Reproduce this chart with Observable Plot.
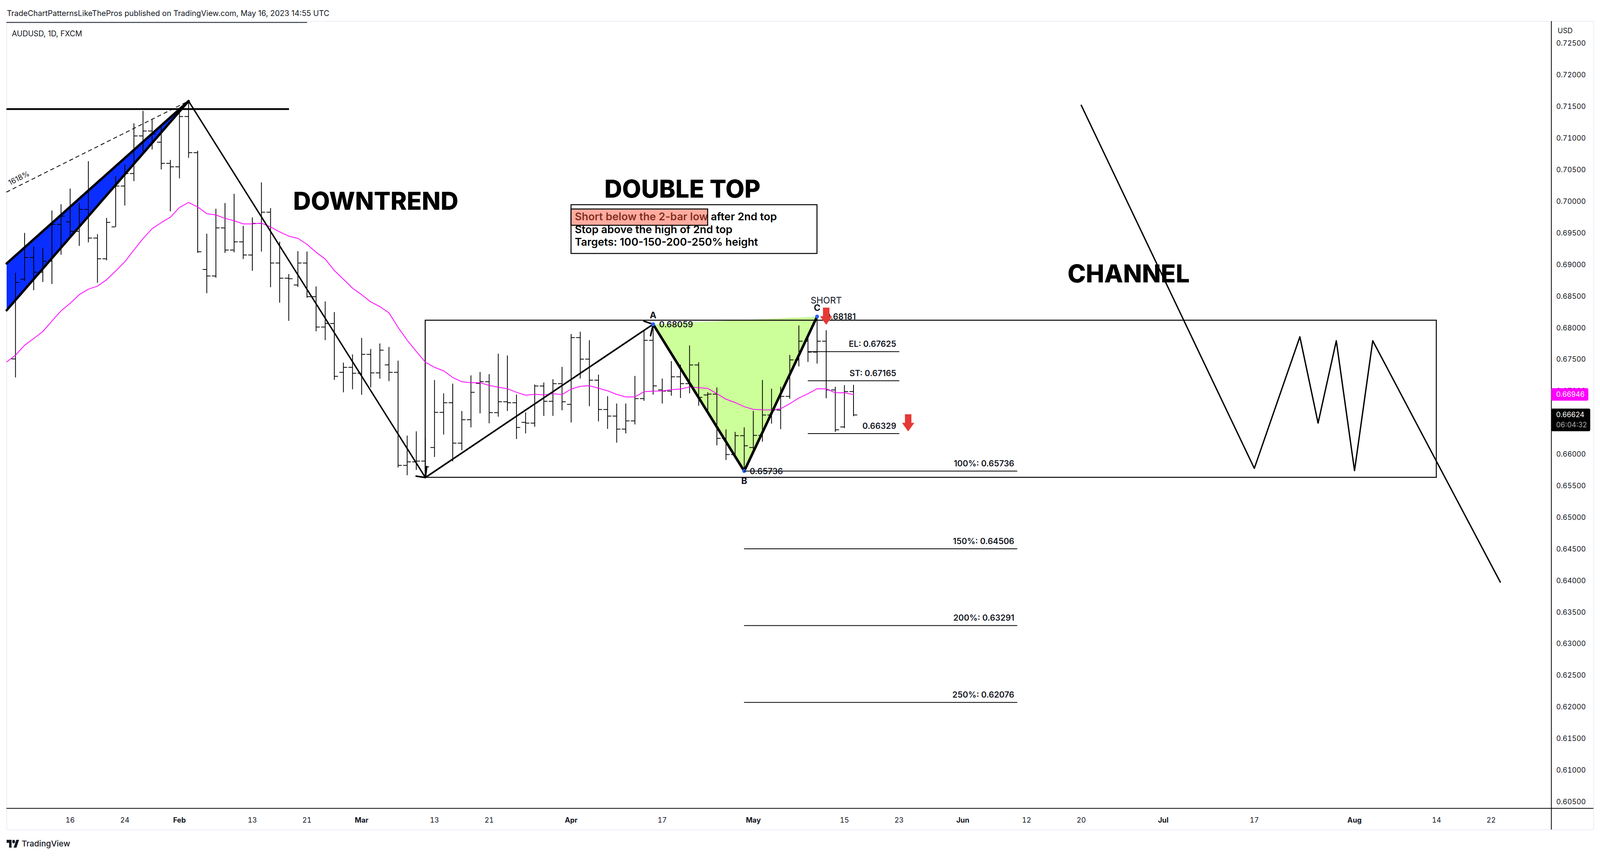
<!DOCTYPE html>
<html>
<head>
<meta charset="utf-8">
<script src="https://cdn.jsdelivr.net/npm/d3@7"></script>
<script src="https://cdn.jsdelivr.net/npm/@observablehq/plot@0.6"></script>
<style>
html,body{margin:0;padding:0;background:#fff;font-family:Inter,sans-serif;color:#131722;overflow:hidden}
#page{position:relative;width:100%;height:2194px;overflow:hidden}
#head{height:52px;box-sizing:border-box;padding-top:22px;line-height:24px;white-space:nowrap}
#foot{position:absolute;top:2148px;display:flex;align-items:center;font-weight:500;line-height:24px}
svg{display:block}
</style>
</head>
<body>
<div id="page">
<div id="head">TradeChartPatternsLikeThePros published on TradingView.com, May 16, 2023 14:55 UTC</div>
<div id="chart"></div>
<div id="foot"><svg id="logo" height="20" viewBox="0 4 36 18" preserveAspectRatio="none" fill="#131722"><path d="M14 22H7V11H0V4h14v18zM28 22h-8l7.5-18h8L28 22z"/><circle cx="20" cy="8" r="4"/></svg><span>TradingView</span></div>
</div>
<script>
// ---- OHLC, one value per trading bar, from 6 Jan 2023 (bar 0) to 16 May 2023 (bar 92)
const opens=[.67511,.68772,.69115,.68883,.69056,.69639,.69679,.69529,.69876,.69423,.69095,.69600,.70246,.70444,.71039,.71117,.70940,.70605,.70550,.71346,.70774,.68926,.68823,.69584,.69233,.69363,.69155,.69655,.69832,.69028,.68788,.68681,.69028,.68496,.68015,.68071,.67298,.67377,.67284,.67583,.67290,.67416,.67298,.65826,.65882,.65894,.66109,.66665,.66817,.66178,.66549,.67124,.67150,.66661,.66833,.66817,.66507,.66495,.67082,.66840,.67119,.66791,.67848,.67507,.67174,.66710,.66606,.66400,.66530,.66883,.67805,.67020,.67001,.67228,.67119,.67415,.66940,.66954,.66254,.65998,.66296,.66109,.66301,.66623,.66701,.66918,.67495,.67791,.67618,.67791,.67020,.66434,.66994];
const highs=[.68871,.69501,.69285,.69257,.69856,.69955,.70203,.69974,.70637,.69482,.69738,.70400,.70585,.71236,.71433,.71295,.71196,.70656,.71453,.71591,.70802,.69489,.69884,.69974,.70120,.69612,.69746,.70301,.69895,.69363,.68851,.69213,.69206,.68654,.68417,.68248,.67449,.67579,.67840,.67665,.67752,.67696,.67480,.66294,.66362,.66258,.67174,.66963,.67117,.66684,.67247,.67301,.67266,.67590,.67562,.66944,.66661,.67103,.67134,.67186,.67382,.67902,.67938,.67803,.67259,.66918,.66802,.66802,.67238,.67949,.68059,.67197,.67474,.67417,.67720,.67455,.66980,.67056,.66393,.66353,.66424,.66684,.67174,.67037,.67067,.67571,.68037,.67867,.68181,.67961,.67067,.67093,.67098];
const lows=[.67215,.68741,.68595,.68725,.68693,.69155,.69442,.69296,.69352,.68713,.69068,.69600,.69935,.70321,.70794,.70822,.70506,.69844,.70364,.70688,.69186,.68547,.68792,.69186,.69194,.69087,.68902,.69206,.68642,.68398,.68110,.68646,.68476,.67944,.67805,.67175,.66979,.67027,.66940,.67057,.67195,.67156,.65790,.65667,.65750,.65639,.65956,.66311,.65887,.66062,.66424,.66646,.66488,.66594,.66684,.66240,.66329,.66434,.66606,.66606,.66694,.66502,.67197,.66760,.66519,.66400,.66183,.66329,.66471,.66845,.66944,.66802,.66925,.66890,.66963,.66767,.66661,.66140,.65908,.65987,.65736,.66046,.66199,.66483,.66396,.66878,.67389,.67460,.67434,.66885,.66353,.66412,.66601];
const closes=[.68721,.69115,.68883,.69056,.69639,.69769,.69529,.69876,.69423,.69095,.69671,.70246,.70444,.71039,.71117,.71070,.70605,.70550,.71346,.70774,.69206,.68823,.69584,.69233,.69363,.69155,.69655,.69832,.69028,.68788,.68780,.69028,.68496,.68015,.68071,.67235,.67377,.67284,.67583,.67290,.67649,.67298,.65826,.65882,.65894,.65802,.66665,.66817,.66178,.66549,.66982,.67150,.66661,.66833,.66817,.66426,.66495,.67082,.66840,.67119,.66833,.67848,.67507,.67174,.66710,.66606,.66400,.66530,.66883,.67805,.67084,.67001,.67228,.67119,.67415,.66902,.66954,.66254,.65998,.66296,.66136,.66301,.66623,.66701,.66918,.67495,.67791,.67618,.67791,.67020,.66389,.66994,.66624];
// moving average, starting one bar before bar 0
const maValues=[.67459,.67570,.67727,.67834,.67944,.68110,.68271,.68390,.68527,.68614,.68662,.68764,.68902,.69048,.69233,.69414,.69572,.69667,.69753,.69907,.69986,.69915,.69809,.69789,.69734,.69698,.69647,.69647,.69659,.69600,.69521,.69454,.69418,.69324,.69198,.69091,.68910,.68772,.68630,.68527,.68413,.68338,.68240,.68010,.67808,.67630,.67458,.67377,.67323,.67216,.67150,.67134,.67134,.67091,.67063,.67039,.66982,.66937,.66951,.66942,.66959,.66947,.67034,.67077,.67086,.67048,.67006,.66949,.66909,.66909,.66992,.67001,.67003,.67025,.67034,.67067,.67056,.67044,.66961,.66873,.66821,.66755,.66713,.66705,.66703,.66722,.66802,.66892,.66961,.67039,.67037,.66975,.66977,.66946];

// ---- axes
const priceTicks=[.605,.61,.615,.62,.625,.63,.635,.64,.645,.65,.655,.66,.665,.67,.675,.68,.685,.69,.695,.7,.705,.71,.715,.72,.725];
const dayTicks=[6,12,26,32,46,52,71,91,97,111,117,136,156,162];
const dayLabels=["16","24","13","21","13","21","17","15","23","12","20","17","14","22"];
const monthTicks=[18,38,61,81,104,126,147];
const monthLabels=["Feb","Mar","Apr","May","Jun","Jul","Aug"];

// ---- drawings
const wedgeX=[-0.97,19,-0.97];
const wedgeY=[.69021,.71591,.68280];
const fibX=[-0.97,19];
const fibY=[.70152,.71591];
const downX=[19,45];
const downY=[.71591,.65634];
const upX=[45,70];
const upY=[.65634,.68059];
const headLowX=[43.98,45,45.15];
const headLowY=[.65655,.65634,.65809];
const headTopX=[68.99,70,69.72];
const headTopY=[.68108,.68059,.67878];
const patternX=[70,80,88];
const patternY=[.68059,.65736,.68181];
const channelX=[117,136,141,143,145,147,149,163];
const channelY=[.71524,.65779,.67860,.66496,.67798,.65743,.67798,.63980];
const shortLevels=[.67625,.67165,.66329];
const shortLabels=["EL: 0.67625","ST: 0.67165","0.66329"];
const targetLevels=[.65736,.64506,.63291,.62076];
const targetLabels=["100%: 0.65736","150%: 0.64506","200%: 0.63291","250%: 0.62076"];
const noteLines=["Short below the 2-bar low after 2nd top","Stop above the high of 2nd top","Targets: 100-150-200-250% height"];
const noteY=[.69756,.69554,.69359];
const arrowX=[89,98];
const arrowY=[.68187,.66499];

// the browser window may be narrower than the reference: fit the width to it
const pageW=Math.min(window.innerWidth,4948);
const kx=pageW/4948;
const fs=n=>n*kx;

const bars=opens.map((o,i)=>({i,open:o,high:highs[i],low:lows[i],close:closes[i]}));
const ma=maValues.map((v,k)=>({i:k-1,v}));
const pts=(xs,ys)=>xs.map((x,k)=>({x,y:ys[k]}));
const XL=-0.969,XR=168.61,XO=173.25,YT=.72853,YB=.60399,YO=.6006;
const downArrow={draw(c){const w=10*kx,h=19*kx;c.moveTo(-w,-22);c.lineTo(w,-22);c.lineTo(w,0);c.lineTo(h,0);c.lineTo(0,22);c.lineTo(-h,0);c.lineTo(-w,0);c.closePath();}};
const ink="#000";
const note={fontSize:fs(33),fontWeight:600,fill:"#000"};
const label={fontSize:fs(25.5),fontWeight:600,fill:"#131722"};
const big={fontSize:fs(76),fontWeight:800,fill:"#000"};
const letter={fontSize:fs(28),fontWeight:700,fill:"#131722"};
const tick=fs(22);
const lineOf=(xs,ys,o)=>Plot.line(pts(xs,ys),{x:"x",y:"y",stroke:ink,...o});

const head=document.getElementById("head");
head.style.fontSize=fs(23.8)+"px";
head.style.paddingLeft=21*kx+"px";
const foot=document.getElementById("foot");
foot.style.left=20*kx+"px";
foot.style.fontSize=fs(25)+"px";
foot.style.gap=8*kx+"px";
document.getElementById("logo").setAttribute("width",39*kx);

const chart=Plot.plot({
  width:pageW,height:2074,marginTop:2,marginBottom:57,marginLeft:20*kx,marginRight:151*kx,
  style:{fontFamily:"Inter, sans-serif",background:"#fff",color:"#131722"},
  x:{type:"linear",domain:[XL,XR],range:[20*kx,4797*kx],axis:null},
  y:{type:"linear",domain:[YB,YT],axis:null},
  marks:[
    // outer frame, axis lines
    Plot.ruleX([XL,XO],{y1:YO,y2:YT,stroke:"#f0f3fa",strokeWidth:3}),
    Plot.ruleY([YT,YO],{x1:XL,x2:XO,stroke:"#f0f3fa",strokeWidth:3}),
    Plot.ruleX([XR],{y1:YO,y2:YT,stroke:ink,strokeWidth:2}),
    Plot.ruleY([YB],{x1:XL,x2:XO,stroke:ink,strokeWidth:2}),
    Plot.ruleY([.72834],{x1:XL,x2:32.04,stroke:"#131722",strokeWidth:2}),
    Plot.axisY(priceTicks,{anchor:"right",tickSize:0,tickPadding:15*kx,tickFormat:d=>d.toFixed(5),fontSize:tick,fill:"#131722",label:null}),
    Plot.axisX(dayTicks,{anchor:"bottom",tickSize:0,tickPadding:24,tickFormat:d=>dayLabels[dayTicks.indexOf(d)],fontSize:tick,fill:"#131722",label:null}),
    Plot.axisX(monthTicks,{anchor:"bottom",tickSize:0,tickPadding:24,tickFormat:d=>monthLabels[monthTicks.indexOf(d)],fontSize:tick,fontWeight:700,fill:"#131722",label:null}),
    Plot.text(["AUDUSD, 1D, FXCM"],{frameAnchor:"top-left",dx:16*kx,dy:25,fontSize:fs(23.4),textAnchor:"start",fill:"#131722"}),
    Plot.text(["USD"],{x:169.3,y:.72698,textAnchor:"start",fontSize:tick,fill:"#131722"}),

    // fills
    lineOf(wedgeX,wedgeY,{fill:"#0a2eff",stroke:"none"}),
    lineOf(patternX,patternY,{fill:"#ccff99",stroke:"none"}),
    Plot.rect([0],{x1:45,x2:156,y1:.65634,y2:.6812,fill:"none",stroke:ink,strokeWidth:2.5}),

    // bars
    Plot.ruleX(bars,{x:"i",y1:"low",y2:"high",stroke:ink,strokeWidth:2}),
    Plot.ruleY(bars,{y:"open",x1:d=>d.i-0.43,x2:"i",stroke:ink,strokeWidth:2}),
    Plot.ruleY(bars,{y:"close",x1:"i",x2:d=>d.i+0.43,stroke:ink,strokeWidth:2}),
    Plot.line(ma,{x:"i",y:"v",stroke:"#ff00ff",strokeWidth:2,clip:true}),

    // hand-drawn lines
    Plot.ruleY([.71464],{x1:XL,x2:30.05,stroke:ink,strokeWidth:4.5}),
    Plot.line(pts(fibX,fibY),{x:"x",y:"y",stroke:ink,strokeWidth:2,strokeDasharray:"9,9"}),
    Plot.text(["1618%"],{x:.38,y:.70369,rotate:-26.5,fontSize:fs(23),fill:"#131722"}),
    lineOf([wedgeX[0],wedgeX[1]],[wedgeY[0],wedgeY[1]],{strokeWidth:6}),
    lineOf([wedgeX[2],wedgeX[1]],[wedgeY[2],wedgeY[1]],{strokeWidth:6}),
    lineOf(downX,downY,{strokeWidth:3.6}),
    lineOf(upX,upY,{strokeWidth:4}),
    lineOf(headLowX,headLowY,{strokeWidth:4}),
    lineOf(headTopX,headTopY,{strokeWidth:4}),
    lineOf(patternX,patternY,{strokeWidth:6.5}),
    lineOf(channelX,channelY,{strokeWidth:3.4}),
    Plot.dot(pts(patternX,patternY),{x:"x",y:"y",r:5,fill:"#2962ff"}),

    // levels
    Plot.ruleY(shortLevels,{x1:87,x2:97.05,stroke:ink,strokeWidth:2}),
    Plot.ruleY(targetLevels,{x1:80,x2:110,stroke:ink,strokeWidth:2}),
    Plot.text(shortLabels,{x:96.69,y:(d,k)=>shortLevels[k]+.00117,textAnchor:"end",...label}),
    Plot.text(targetLabels,{x:109.65,y:(d,k)=>targetLevels[k]+.00117,textAnchor:"end",...label}),
    Plot.text(["0.68059"],{x:70.65,y:.68051,textAnchor:"start",...label}),
    Plot.text(["0.65736"],{x:80.6,y:.65727,textAnchor:"start",...label}),
    Plot.text(["0.68181"],{x:92.25,y:.68174,textAnchor:"end",...label}),
    Plot.text(["A"],{x:70,y:.68199,...letter}),
    Plot.text(["B"],{x:80,y:.65578,...letter}),
    Plot.text(["C"],{x:88,y:.68319,...letter}),
    Plot.text(["SHORT"],{x:89,y:.68434,fontSize:fs(28),fontWeight:400,fill:"#131722"}),
    Plot.dot(pts(arrowX,arrowY),{x:"x",y:"y",r:10,symbol:downArrow,fill:"#e53935",stroke:"none"}),

    // headings and note
    Plot.text(["DOWNTREND"],{x:39.55,y:.69998,...big}),
    Plot.text(["DOUBLE TOP"],{x:73.22,y:.70189,...big}),
    Plot.text(["CHANNEL"],{x:122.2,y:.68848,...big}),
    Plot.rect([0],{x1:61.01,x2:88.01,y1:.69176,y2:.69948,fill:"none",stroke:ink,strokeWidth:2.5}),
    Plot.text(noteLines,{x:61.4,y:(d,k)=>noteY[k],textAnchor:"start",...note}),
    Plot.rect([0],{x1:61.01,x2:76.01,y1:.69622,y2:.6988,fill:"#ff5a40",fillOpacity:.5,stroke:ink,strokeWidth:2.5}),

    // price tags
    Plot.rect([0],{x1:XR,x2:172.69,y1:.66847,y2:.67045,fill:"#ff00ff",rx:4}),
    Plot.text(["0.66946"],{x:169.14,y:.66946,textAnchor:"start",fontSize:tick,fill:"#fff"}),
    Plot.rect([0],{x1:XR,x2:172.9,y1:.66363,y2:.66722,fill:"#000",rx:4}),
    Plot.text(["0.66624"],{x:169.14,y:.66624,textAnchor:"start",fontSize:tick,fill:"#fff"}),
    Plot.text(["06:04:32"],{x:169.14,y:.66462,textAnchor:"start",fontSize:tick,fill:"#aaa"})
  ]
});
document.getElementById("chart").appendChild(chart);
</script>
</body>
</html>
